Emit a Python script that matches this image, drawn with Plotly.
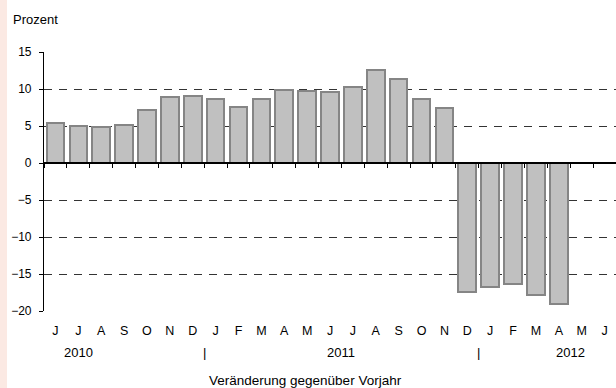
"""Veränderung gegenüber Vorjahr – Säulendiagramm (Plotly)."""

import plotly.graph_objects as go

MONTHS = ["J", "J", "A", "S", "O", "N", "D", "J", "F", "M", "A", "M",
          "J", "J", "A", "S", "O", "N", "D", "J", "F", "M", "A", "M", "J"]
VALUES = [5.4, 5.0, 4.8, 5.2, 7.2, 8.9, 9.0, 8.6, 7.6, 8.6, 9.9, 9.7,
          9.6, 10.3, 12.6, 11.3, 8.6, 7.5, -17.4, -16.7, -16.3, -17.8, -19.1]
YEAR_LABELS = ["2010", "|", "2011", "|", "2012"]
YEAR_POS = [1, 6.5, 12.5, 18.5, 22.5]
Y_TICKS = [-20, -15, -10, -5, 0, 5, 10, 15]

FONT = "Liberation Sans, Arial, sans-serif"
X_RANGE = [-0.5, len(MONTHS) - 0.5]
Y_RANGE = [-20, 15]

fig = go.Figure()
fig.add_trace(
    go.Bar(
        x=list(range(len(VALUES))),
        y=VALUES,
        width=0.77,
        marker={"color": "#c0c0c0", "line": {"color": "#858585", "width": 2}},
        showlegend=False,
        hoverinfo="skip",
    )
)
# leere Spur, damit die Nulllinien-Achse gezeichnet wird
fig.add_trace(go.Scatter(x=[], y=[], xaxis="x2", showlegend=False))

annotations = [
    {"text": t, "x": p, "xref": "x", "y": -0.16, "yref": "paper", "yanchor": "middle",
     "showarrow": False, "font": {"size": 13}}
    for t, p in zip(YEAR_LABELS, YEAR_POS)
]
annotations += [
    {"text": "Prozent", "x": -0.058, "xref": "paper", "xanchor": "left",
     "y": 1.124, "yref": "paper", "yanchor": "middle", "showarrow": False,
     "font": {"size": 13}},
    {"text": "Veränderung gegenüber Vorjahr", "x": 0.458, "xref": "paper",
     "xanchor": "center", "y": -0.268, "yref": "paper", "yanchor": "middle",
     "showarrow": False, "font": {"size": 13.5}},
]

fig.update_layout(
    width=616,
    height=388,
    margin={"l": 44, "r": 0, "t": 52, "b": 77},
    paper_bgcolor="white",
    plot_bgcolor="white",
    font={"family": FONT, "size": 12, "color": "#000"},
    bargap=0,
    annotations=annotations,
    shapes=[
        {"type": "rect", "xref": "paper", "yref": "paper",
         "x0": -44 / 572, "x1": -37 / 572, "y0": -77 / 259, "y1": 1 + 52 / 259,
         "fillcolor": "#fbe9e3", "line": {"width": 0}, "layer": "below"},
    ],
    xaxis={
        "range": X_RANGE,
        "tickvals": list(range(len(MONTHS))),
        "ticktext": MONTHS,
        "ticks": "outside",
        "ticklen": 8,
        "tickcolor": "rgba(0,0,0,0)",
        "showgrid": False,
        "zeroline": False,
        "showline": False,
        "tickfont": {"size": 12.5},
    },
    xaxis2={
        "overlaying": "x",
        "anchor": "free",
        "position": (0 - Y_RANGE[0]) / (Y_RANGE[1] - Y_RANGE[0]),
        "range": X_RANGE,
        "tickvals": [i - 0.5 for i in range(len(MONTHS) + 1)],
        "showticklabels": False,
        "ticks": "outside",
        "ticklen": 4,
        "tickcolor": "#000",
        "showline": True,
        "linecolor": "#000",
        "linewidth": 1.5,
        "showgrid": False,
        "zeroline": False,
    },
    yaxis={
        "range": Y_RANGE,
        "tickvals": Y_TICKS,
        "ticks": "outside",
        "ticklen": 4,
        "ticklabelstandoff": 5,
        "tickcolor": "#000",
        "showline": True,
        "linecolor": "#000",
        "linewidth": 1.2,
        "showgrid": True,
        "gridcolor": "#333",
        "gridwidth": 1,
        "griddash": "8px,7px",
        "zeroline": False,
        "tickfont": {"size": 12},
    },
)

fig.write_html(
    "out.html",
    config={"displayModeBar": False},
    post_script="document.body.style.margin='0';",
)
